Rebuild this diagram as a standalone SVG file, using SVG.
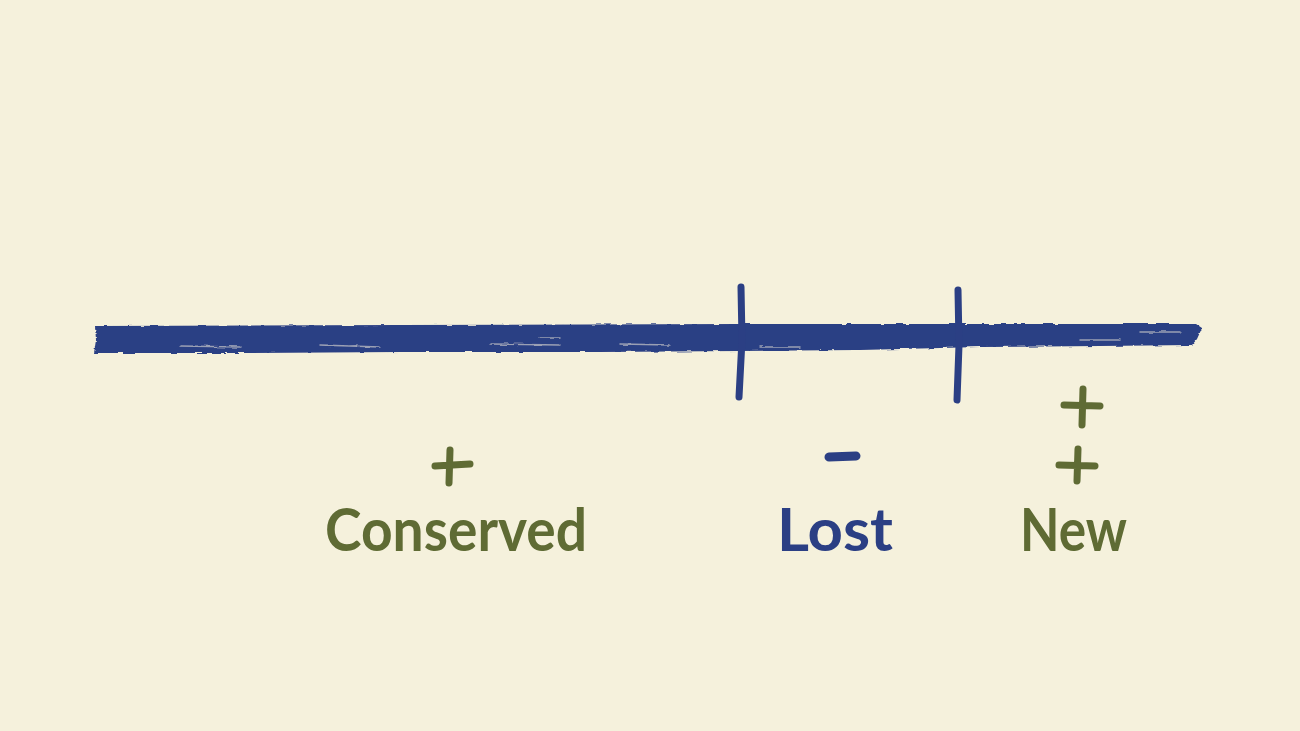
<svg xmlns="http://www.w3.org/2000/svg" width="1300" height="731" viewBox="0 0 1300 731">
  <defs>
    <style>
      .blue { fill: #2B3F84; }
      .bluestroke { stroke: #2B3F84; stroke-linecap: round; fill: none; }
      .green { stroke: #5F6B34; stroke-linecap: round; fill: none; }
      .streak { stroke: #F5F1DC; stroke-linecap: round; fill: none; opacity: 0.55; }
      .label { font-family: "Lato", "Noto Sans", "Liberation Sans", sans-serif; font-weight: 700; font-size: 60px; }
    </style>
    <filter id="rough" x="-5%" y="-20%" width="110%" height="140%">
      <feTurbulence type="fractalNoise" baseFrequency="0.08 0.6" numOctaves="2" seed="3" result="n"/>
      <feDisplacementMap in="SourceGraphic" in2="n" scale="3" xChannelSelector="R" yChannelSelector="G"/>
    </filter>
  </defs>
  <rect width="1300" height="731" fill="#F5F1DC"/>

  <g id="timeline" filter="url(#rough)">
    <path class="blue" d="M95 326 L400 325 L740 324 L1000 324 L1196 324 L1202 328 L1197 339 L1192 345 L1100 346 L980 347 L860 350 L740 351 L600 352 L400 352 L250 353 L94 353 L96 340 Z"/>
    <path class="streak" stroke-width="1.5" d="M180 346 L240 347 M320 345 L380 347 M490 344 L560 345 M620 344 L670 345 M1080 340 L1120 340 M1140 332 L1180 332 M760 347 L800 347 M540 338 L560 338"/>
  </g>

  <g id="tick-1">
    <path class="bluestroke" stroke-width="7" d="M741 287 L742 340 L739 397"/>
  </g>
  <g id="tick-2">
    <path class="bluestroke" stroke-width="7" d="M958 290 L959 345 L957 400"/>
  </g>

  <g id="conserved">
    <path class="green" stroke-width="7" d="M435 466 L470 464 M450 450 L449 483"/>
    <text class="label" x="325" y="551" fill="#5F6B34" textLength="262" lengthAdjust="spacingAndGlyphs">Conserved</text>
  </g>

  <g id="lost">
    <path class="bluestroke" stroke-width="9" d="M829 457 L856 456"/>
    <text class="label" x="777" y="551" fill="#2B3F84" textLength="116" lengthAdjust="spacingAndGlyphs">Lost</text>
  </g>

  <g id="new">
    <path class="green" stroke-width="7" d="M1064 405 L1100 406 M1083 389 L1082 425"/>
    <path class="green" stroke-width="7" d="M1059 465 L1095 466 M1078 449 L1077 481"/>
    <text class="label" x="1020" y="551" fill="#5F6B34" textLength="107" lengthAdjust="spacingAndGlyphs">New</text>
  </g>
</svg>
